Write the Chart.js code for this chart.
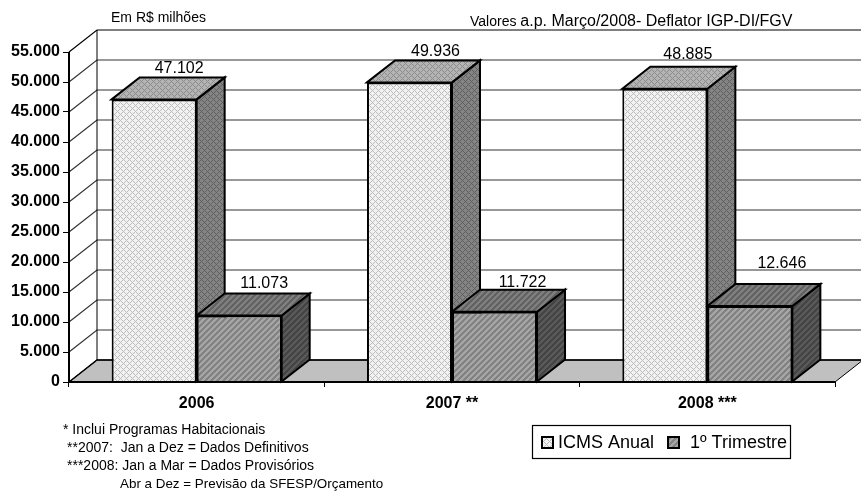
<!DOCTYPE html>
<html><head><meta charset="utf-8">
<style>html,body{margin:0;padding:0;background:#fff;overflow:hidden}#w{width:861px;height:492px;position:relative}</style>
<script src="https://cdn.jsdelivr.net/npm/chart.js@4"></script>
</head><body><div id="w"><canvas id="c" width="861" height="492"></canvas></div>
<script>
const categories = ['2006','2007 **','2008 ***'];
const icmsAnual = [47102,49936,48885];
const primeiroTrimestre = [11073,11722,12646];
const seriesNames = ['ICMS Anual','1º Trimestre'];
const yMax = 55000, yStep = 5000;
const notes = ['* Inclui Programas Habitacionais','**2007:  Jan a Dez = Dados Definitivos','***2008: Jan a Mar = Dados Provisórios','Abr a Dez = Previsão da SFESP/Orçamento'];
const unitNote = 'Em R$ milhões';
const priceNoteA = 'Valores ', priceNoteB = 'a.p. Março/2008- Deflator IGP-DI/FGV';

const fmt = v => String(v).replace(/\B(?=(\d{3})+$)/g,'.');
const FONT = '"Liberation Sans", Arial, sans-serif';
const DX = 28, DY = -22;
const labelNudge = [[[-3,-4],[-2,-4],[-5,-8]],[[-3,-6],[0,-3],[4,-16]]];

function lattice(bg, fg){
  const t=document.createElement('canvas');t.width=t.height=6;const g=t.getContext('2d');
  g.fillStyle=bg;g.fillRect(0,0,6,6);g.fillStyle=fg;
  [[0,0],[1,1],[2,2],[3,3],[4,4],[5,5],[5,1],[4,2],[2,4],[1,5]].forEach(p=>g.fillRect(p[0],p[1],1,1));
  return g.createPattern(t,'repeat');
}
function stripes(bg, fg){
  const t=document.createElement('canvas');t.width=t.height=6;const g=t.getContext('2d');
  g.fillStyle=bg;g.fillRect(0,0,6,6);g.fillStyle=fg;
  for(let i=0;i<6;i++){g.fillRect((5-i+6)%6,i,1,1);g.fillRect((6-i+6)%6,i,1,1);g.fillRect((7-i+6)%6,i,1,1);}
  return g.createPattern(t,'repeat');
}
const P = {
  f1: lattice('#f2f2f2','#bcbcbc'), t1: lattice('#b4b4b4','#8c8c8c'), s1: lattice('#848484','#606060'),
  f2: stripes('#828282','#a6a6a6'), t2: stripes('#626262','#808080'), s2: stripes('#444444','#5a5a5a')
};
const three = {
  id:'three',
  beforeDatasetsDraw(ch){
    const c=ch.ctx,a=ch.chartArea,y=ch.scales.y;
    c.save();
    c.beginPath();c.moveTo(a.left,a.bottom);c.lineTo(a.left+DX,a.bottom+DY);c.lineTo(a.right+DX,a.bottom+DY);c.lineTo(a.right,a.bottom);c.closePath();
    c.fillStyle='#c0c0c0';c.fill();c.strokeStyle='#000';c.lineWidth=1;c.stroke();
    y.ticks.forEach(t=>{
      const p=y.getPixelForValue(t.value);
      c.beginPath();c.moveTo(a.left,p);c.lineTo(a.left+DX,p+DY);c.lineTo(a.right+DX,p+DY);
      c.strokeStyle=t.value===yMax||t.value===0?'#000':'#333';c.lineWidth=t.value===0?1.5:1.2;c.stroke();
    });
    c.beginPath();c.moveTo(a.left+DX,a.top+DY);c.lineTo(a.left+DX,a.bottom+DY);c.strokeStyle='#000';c.lineWidth=1;c.stroke();
    c.lineWidth=2;c.strokeStyle='#000';c.lineJoin='miter';
    [0,1].forEach(i=>{
      ch.getDatasetMeta(i).data.forEach(b=>{
        const l=b.x-b.width/2,r=b.x+b.width/2,tp=b.y,bs=b.base;
        c.beginPath();c.moveTo(r,tp);c.lineTo(r+DX,tp+DY);c.lineTo(r+DX,bs+DY);c.lineTo(r,bs);c.closePath();
        c.fillStyle=i?P.s2:P.s1;c.fill();c.stroke();
        c.beginPath();c.moveTo(l,tp);c.lineTo(l+DX,tp+DY);c.lineTo(r+DX,tp+DY);c.lineTo(r,tp);c.closePath();
        c.fillStyle=i?P.t2:P.t1;c.fill();c.stroke();
      });
    });
    c.restore();
  },
  afterDatasetsDraw(ch){
    const c=ch.ctx,a=ch.chartArea;
    c.save();
    c.strokeStyle='#000';c.lineWidth=2;
    c.beginPath();c.moveTo(a.left,a.top);c.lineTo(a.left,a.bottom);c.lineTo(a.right,a.bottom);c.stroke();
    c.fillStyle='#000';c.font='16px '+FONT;c.textAlign='center';c.textBaseline='alphabetic';
    [0,1].forEach(i=>{
      ch.getDatasetMeta(i).data.forEach((b,j)=>{
        const n=labelNudge[i][j];
        c.fillText(fmt(ch.data.datasets[i].data[j]),b.x+DX+n[0],b.y+DY+n[1]);
      });
    });
    c.textAlign='left';c.font='14px '+FONT;
    c.fillText(unitNote,111,22);
    c.fillText(priceNoteA,470,26);
    const w=c.measureText(priceNoteA).width;
    c.font='16px '+FONT;c.fillText(priceNoteB,470+w,26);
    c.font='14px '+FONT;
    const nx=[63,67,67,120], ny=[434,452,470,488];
    notes.forEach((n,i)=>{c.font=(i===3?'13.4px ':'14px ')+FONT;c.fillText(n,nx[i],ny[i]);});
    c.strokeStyle='#000';c.lineWidth=1.2;c.strokeRect(532.5,425.5,258,33);
    c.font='18px '+FONT;
    const lx=[542,668],tx=[558,690];
    [0,1].forEach(i=>{
      c.fillStyle=i?P.f2:P.f1;c.fillRect(lx[i],437,11,11);
      c.lineWidth=2;c.strokeRect(lx[i],437,11,11);
      c.fillStyle='#000';c.fillText(seriesNames[i],tx[i],448);
    });
    c.restore();
  }
};
new Chart(document.getElementById('c'),{
  type:'bar',
  data:{labels:categories,datasets:[
    {label:seriesNames[0],data:icmsAnual,backgroundColor:P.f1,borderColor:'#000',borderWidth:2},
    {label:seriesNames[1],data:primeiroTrimestre,backgroundColor:P.f2,borderColor:'#000',borderWidth:2}
  ]},
  options:{
    responsive:false,animation:false,
    devicePixelRatio:1,
    layout:{padding:{top:52,right:26,left:0,bottom:0}},
    plugins:{legend:{display:false},tooltip:{enabled:false},title:{display:false}},
    datasets:{bar:{categoryPercentage:0.666,barPercentage:1}},
    scales:{
      x:{
        afterFit(s){s.height=110;},
        grid:{drawOnChartArea:false,color:'#000',tickLength:5,tickColor:'#000',drawTicks:true},
        border:{display:false},
        ticks:{color:'#000',font:{family:FONT,size:16,weight:'bold'},padding:7,maxRotation:0}
      },
      y:{
        min:0,max:yMax,
        afterFit(s){s.width=69;},
        grid:{drawOnChartArea:false,tickLength:6,tickColor:'#000'},
        border:{display:false},
        ticks:{stepSize:yStep,color:'#000',font:{family:FONT,size:16,weight:'bold'},padding:3,callback:v=>fmt(v)}
      }
    }
  },
  plugins:[three]
});
</script></body></html>
